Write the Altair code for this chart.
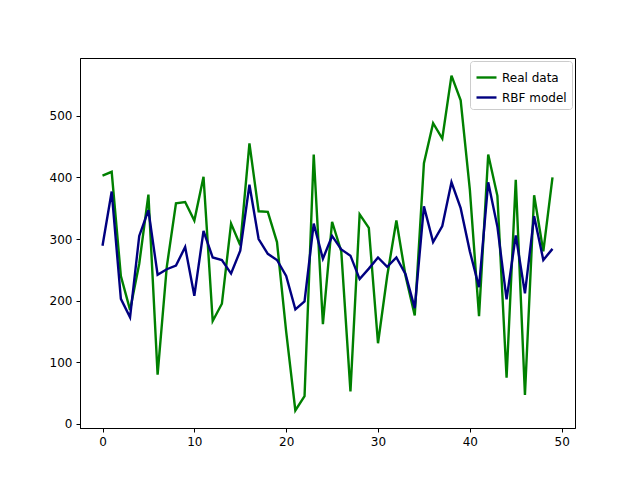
import altair as alt
import pandas as pd

x = list(range(50))
real = [403,409,240,185,260,372,80,255,358,360,330,401,167,195,325,290,455,345,344,295,150,22,45,437,162,328,280,53,340,318,131,240,330,240,176,423,488,463,565,525,380,175,437,370,75,396,47,371,280,400]
rbf = [289,377,203,173,305,347,242,251,257,287,208,313,270,266,244,281,388,300,276,266,240,186,199,325,268,305,283,273,235,252,270,255,270,243,188,353,295,321,392,350,280,222,392,320,202,306,212,337,266,284]

df = pd.DataFrame({"x": x*2, "y": real+rbf, "s": ["Real data"]*50 + ["RBF model"]*50})

chart = alt.Chart(df).mark_line(strokeWidth=2.4, clip=True).encode(
    x=alt.X("x:Q", scale=alt.Scale(domain=[-2.45, 51.45], nice=False, zero=False),
            axis=alt.Axis(values=[0,10,20,30,40,50], title=None, grid=False, labelFontSize=12, tickSize=4, labelColor="black", domainColor="black", tickColor="black", labelPadding=4)),
    y=alt.Y("y:Q", scale=alt.Scale(domain=[-6.5, 593.6], nice=False, zero=False),
            axis=alt.Axis(values=[0,100,200,300,400,500], title=None, grid=False, labelFontSize=12, tickSize=4, labelColor="black", domainColor="black", tickColor="black", labelPadding=4)),
    color=alt.Color("s:N", scale=alt.Scale(domain=["Real data","RBF model"], range=["green","navy"]),
                    legend=alt.Legend(title=None, orient="top-right", symbolType="stroke", symbolStrokeWidth=2.4, symbolSize=400,
                                      labelFontSize=12, fillColor="white", strokeColor="#cccccc", padding=5, offset=3, cornerRadius=3, labelColor="black")),
).properties(width=495, height=370, padding={"left": 72, "top": 50, "right": 57, "bottom": 44},
             autosize=alt.AutoSizeParams(type="none")).configure_view(stroke="black").configure_axis(labelFont="DejaVu Sans").configure_legend(labelFont="DejaVu Sans")

chart.save("out.html", embed_options={"renderer": "svg", "actions": False})
